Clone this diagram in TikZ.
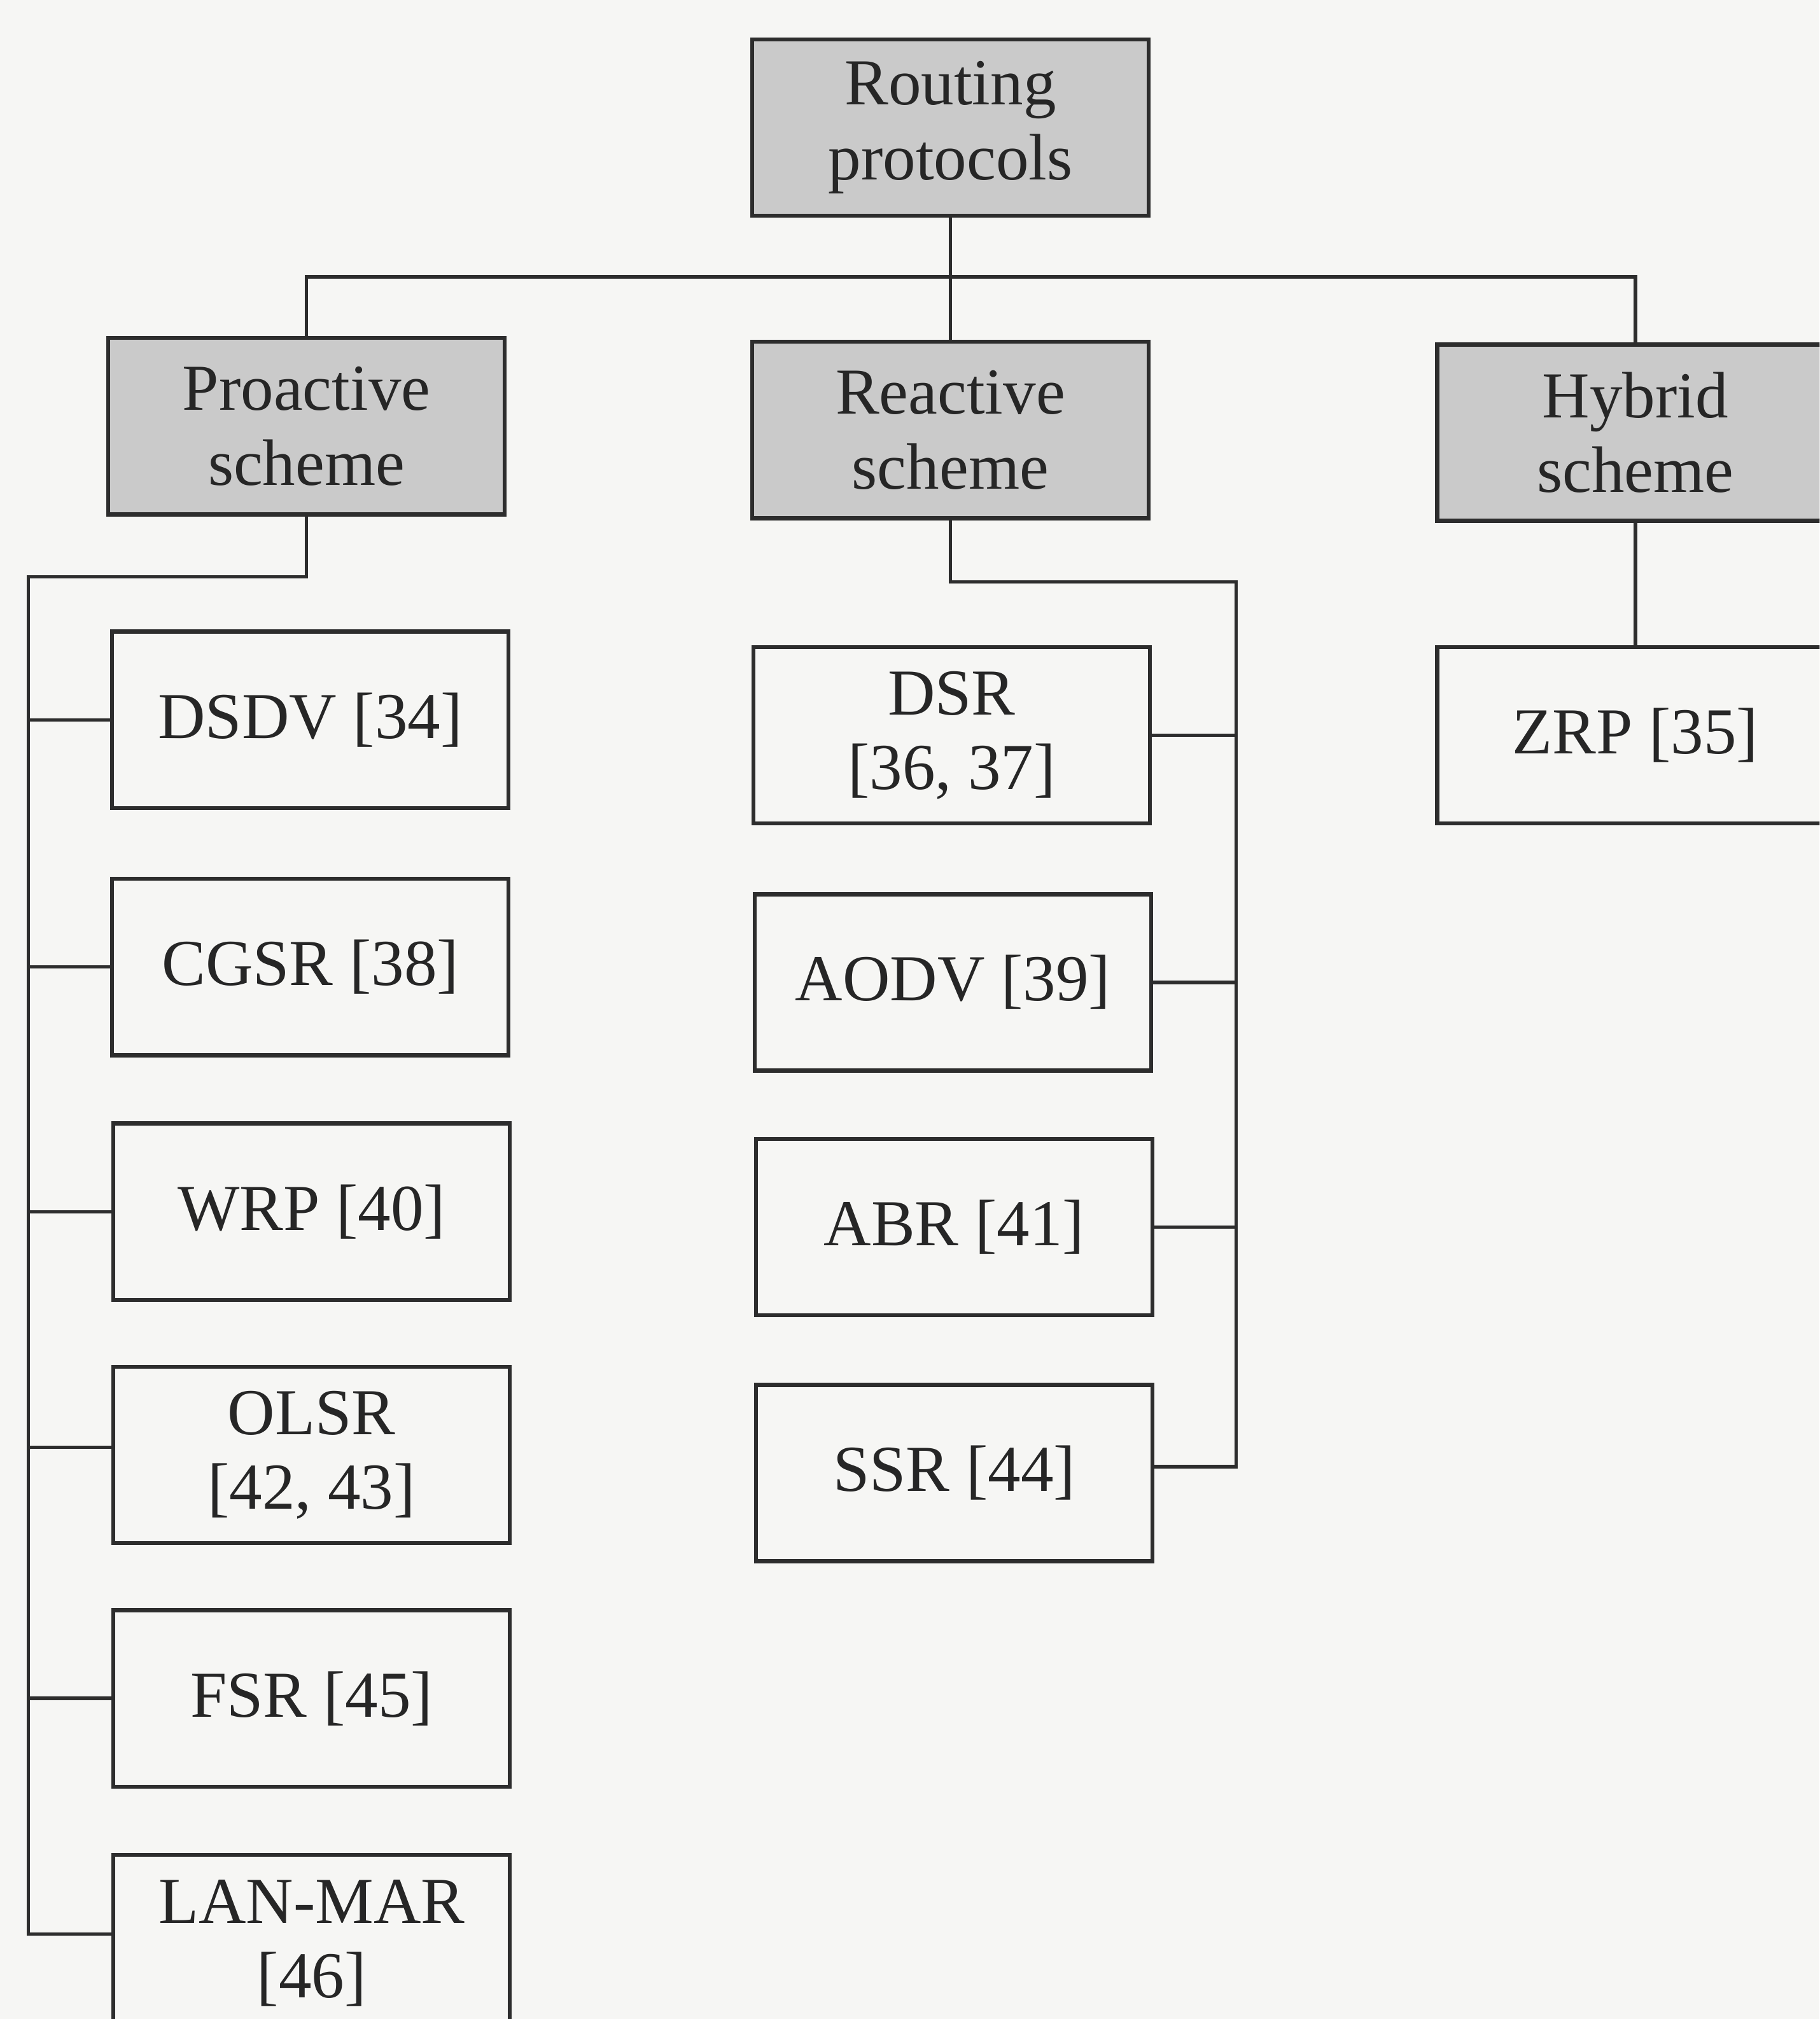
\documentclass[tikz,border=0pt]{standalone}
\usepackage{fontspec}
\setmainfont{Liberation Serif}
\definecolor{bgc}{RGB}{246,246,244}
\definecolor{headc}{RGB}{202,202,202}
\definecolor{linec}{RGB}{45,45,45}
\definecolor{textc}{RGB}{38,38,38}
\begin{document}
\begin{tikzpicture}[x=0.02cm,y=-0.02cm,
  box/.style={draw=linec, line width=1.8pt, fill=bgc, minimum width=6.16cm,
    minimum height=2.74cm, inner sep=0pt, align=center, text=textc,
    font=\fontsize{29}{33}\selectfont},
  head/.style={box, fill=headc},
  wire/.style={draw=linec, line width=1.5pt}]
% canvas
\fill[bgc] (0,0) rectangle (1413,1568);
\useasboundingbox (0,0) rectangle (1413,1568);
\clip (0,0) rectangle (1413,1568);

% root and the three schemes
\node[head] (root) at (738,99)   {Routing\\protocols};
\node[head] (pro)  at (238,331)  {Proactive\\scheme};
\node[head] (rea)  at (738,334)  {Reactive\\scheme};
\node[head] (hyb)  at (1270,336) {Hybrid\\scheme};

% proactive protocols
\node[box] (dsdv)   at (241,559)  {DSDV [34]};
\node[box] (cgsr)   at (241,751)  {CGSR [38]};
\node[box] (wrp)    at (242,941)  {WRP [40]};
\node[box] (olsr)   at (242,1130) {OLSR\\{}[42, 43]};
\node[box] (fsr)    at (242,1319) {FSR [45]};
\node[box] (lanmar) at (242,1509) {LAN-MAR\\{}[46]};

% reactive protocols
\node[box] (dsr)  at (739,571)  {DSR\\{}[36, 37]};
\node[box] (aodv) at (740,763)  {AODV [39]};
\node[box] (abr)  at (741,953)  {ABR [41]};
\node[box] (ssr)  at (741,1144) {SSR [44]};

% hybrid protocols
\node[box] (zrp) at (1270,571) {ZRP [35]};

% top-level bus
\coordinate (bus) at (0,215);
\draw[wire] (root.south) -- (rea.north);
\draw[wire] (pro.north) -- (pro.north |- bus) -- (hyb.north |- bus) -- (hyb.north);

% proactive spine on the left
\coordinate (pspine) at (22,448);
\coordinate (lmtap) at ([yshift=0.14cm]lanmar.west);
\coordinate (oltap) at ([yshift=0.12cm]olsr.west);
\draw[wire] (pro.south) -- (pro.south |- pspine) -- (pspine)
  -- (pspine |- lmtap) -- (lmtap);
\foreach \n in {dsdv,cgsr,wrp,fsr}
  \draw[wire] (pspine |- \n.west) -- (\n.west);
\draw[wire] (pspine |- oltap) -- (oltap);

% reactive spine on the right
\coordinate (rspine) at (960,452);
\coordinate (sstap) at ([yshift=0.1cm]ssr.east);
\draw[wire] (rea.south) -- (rea.south |- rspine) -- (rspine)
  -- (rspine |- sstap) -- (sstap);
\foreach \n in {dsr,aodv,abr}
  \draw[wire] (rspine |- \n.east) -- (\n.east);

% hybrid branch
\draw[wire] (hyb.south) -- (zrp.north);
\end{tikzpicture}
\end{document}
